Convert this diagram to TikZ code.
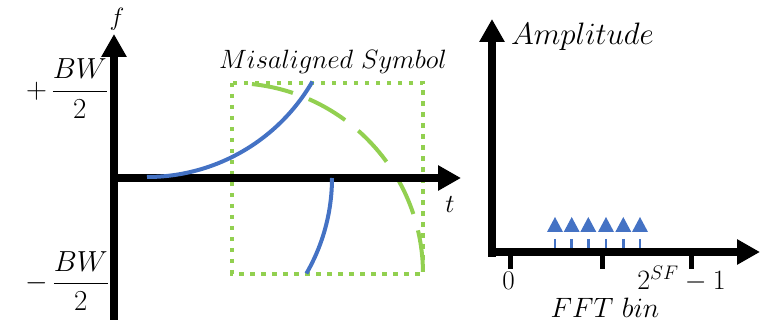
\RequirePackage{fix-cm}
\documentclass[tikz,border=0pt]{standalone}
\usetikzlibrary{arrows.meta}
\definecolor{chirpblue}{HTML}{4472C4}
\definecolor{boxgreen}{HTML}{92D050}
\newcommand{\fsz}[1]{\fontsize{#1}{#1}\selectfont}
\begin{document}
\begin{tikzpicture}[x=1pt,y=-1pt,
  axis/.style={line width=7.5pt,-{Triangle[length=23pt,width=24pt]}},
  tickmark/.style={line width=5pt},
  chirp/.style={chirpblue,line width=4pt},
  lbl/.style={inner sep=0pt},
  peak/.style={fill=chirpblue,draw=none},
  shaft/.style={chirpblue,line width=2.5pt}]
\useasboundingbox (0,0) rectangle (761,323);
% ---------- left plot ----------
\coordinate (fbot) at (114,320);
\coordinate (ftop) at (114,34);
\coordinate (tleft) at (110,178);
\coordinate (tright) at (461,178);
% green symbol window
\draw[boxgreen,line width=4.5pt,dash pattern=on 4.5pt off 6.5pt] (232,83) rectangle (423,274);
\draw[boxgreen,line width=4pt,dash pattern=on 42pt off 17pt] (232,274) ++(-84:191) arc[start angle=-84,end angle=0,radius=191];
% axes
\draw[axis] (fbot) -- (ftop);
\draw[axis] (tleft) -- (tright);
% chirp
\draw[chirp] (147,-14) ++(90:191) arc[start angle=90,end angle=30,radius=191];
\draw[chirp] (141,178) ++(30:191) arc[start angle=30,end angle=0,radius=191];
% labels
\node[lbl,font=\fsz{25}] (flab) at (117,19) {$f$};
\node[lbl,font=\fsz{26}] (tlab) at (450,205) {$t$};
\node[lbl,font=\fsz{29}] (plus) at (67,88.5) {$\displaystyle+\,\frac{BW}{2}$};
\node[lbl,font=\fsz{29}] (minus) at (67,281) {$\displaystyle-\,\frac{BW}{2}$};
\node[lbl,font=\fsz{26.5},anchor=base] (mis) at (333,69) {$Misaligned\ Symbol$};
% ---------- right plot ----------
\coordinate (abot) at (492,257);
\coordinate (atop) at (492,19);
\coordinate (bleft) at (488,252);
\coordinate (bright) at (760,252);
\draw[axis] (abot) -- (atop);
\draw[axis] (bleft) -- (bright);
\foreach \x/\n in {510/ta,602/tb,691/tc}{
  \coordinate (\n1) at (\x,252);
  \coordinate (\n2) at (\x,269);
  \draw[tickmark] (\n1) -- (\n2);
}
\foreach \x [count=\i] in {555,571.7,588.3,606,623.3,640}{
  \coordinate (pk\i) at (\x,217);
  \fill[peak] (pk\i) -- ++(8,15) -- ++(-16,0) -- cycle;
  \coordinate (sa\i) at (\x,239);
  \coordinate (sb\i) at (\x,248);
  \draw[shaft] (sa\i) -- (sb\i);
}
\node[lbl,font=\fsz{31},anchor=base] (amp) at (582.5,45) {$Amplitude$};
\node[lbl,font=\fsz{27},anchor=base] (zero) at (508.5,290) {$0$};
\node[lbl,font=\fsz{28},anchor=base] (sfl) at (681.5,290) {$2^{SF}-1$};
\node[lbl,font=\fsz{28},anchor=base] (fft) at (605,317) {$FFT\ bin$};
\end{tikzpicture}
\end{document}
